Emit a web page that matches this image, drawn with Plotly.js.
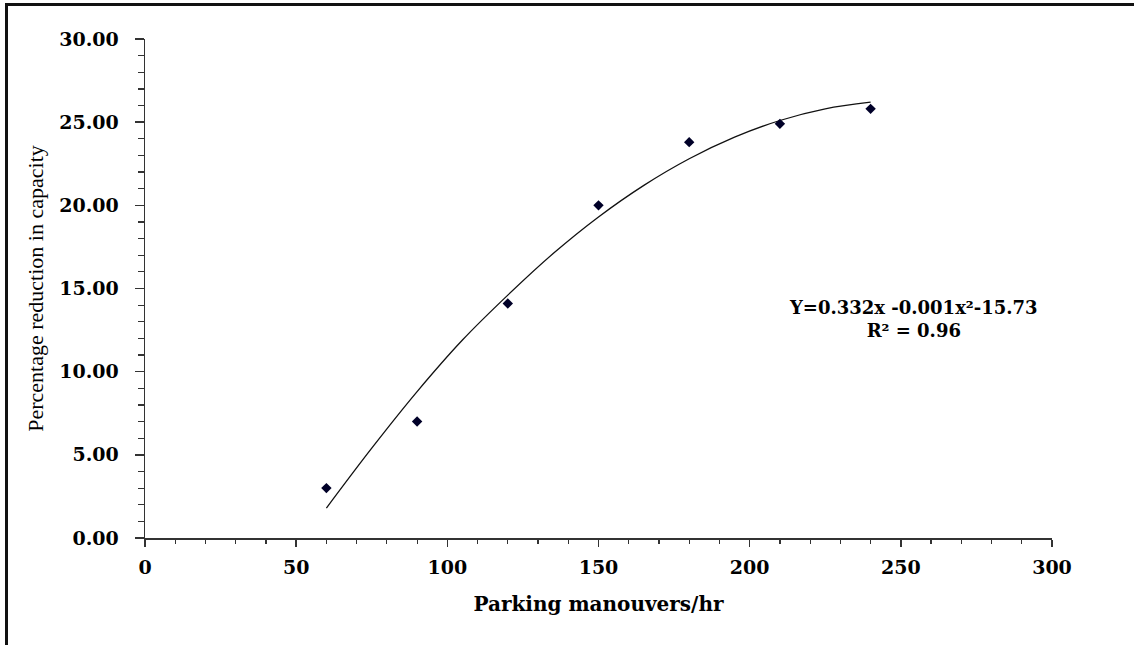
<!DOCTYPE html>
<html>
<head>
<meta charset="utf-8">
<script src="https://cdn.plot.ly/plotly-3.0.1.min.js"></script>
<style>
  html, body { margin: 0; padding: 0; background: #fff; }
  #wrap { position: relative; width: 1134px; height: 645px; overflow: hidden; }
  #chart { position: absolute; left: 0; top: 0; width: 1134px; height: 645px; }
  .frameTop { position: absolute; left: 5px; top: 3px; width: 1129px; height: 3px; background: #111; }
  .frameLeft { position: absolute; left: 5px; top: 3px; width: 3px; height: 642px; background: #111; }
</style>
</head>
<body>
<div id="wrap">
  <div id="chart"></div>
  <div class="frameTop"></div>
  <div class="frameLeft"></div>
</div>
<script>
// Observed data points
const manoeuvres = [60, 90, 120, 150, 180, 210, 240];
const reduction = [3.0, 7.0, 14.1, 20.0, 23.8, 24.9, 25.8];

// Trend curve
const trendX = [60, 75, 90, 105, 120, 135, 150, 165, 180, 195, 210, 225, 240];
const trendY = [1.8, 5.4, 8.8, 11.9, 14.6, 17.1, 19.3, 21.2, 22.8, 24.1, 25.1, 25.8, 26.2];

const xTickVals = [0, 50, 100, 150, 200, 250, 300];
const yTickVals = [0, 5, 10, 15, 20, 25, 30];

const equationText = 'Y=0.332x -0.001x²-15.73<br>R² = 0.96';
const xTitle = 'Parking manouvers/hr';
const yTitle = 'Percentage reduction in capacity';

const tickFont = { family: 'DejaVu Serif', size: 19, color: '#000', weight: 'bold' };

const traces = [
  {
    x: trendX, y: trendY, type: 'scatter', mode: 'lines',
    line: { color: '#111', width: 1.3, shape: 'spline' },
    hoverinfo: 'skip', showlegend: false
  },
  {
    x: manoeuvres, y: reduction, type: 'scatter', mode: 'markers',
    marker: { symbol: 'diamond', size: 8, color: '#000028' },
    showlegend: false
  }
];

const layout = {
  width: 1134, height: 645,
  margin: { l: 145, r: 82, t: 39, b: 107 },
  paper_bgcolor: 'rgba(0,0,0,0)', plot_bgcolor: '#fff',
  showlegend: false,
  xaxis: {
    range: [0, 300], tickvals: xTickVals, ticktext: xTickVals.map(String),
    showgrid: false, zeroline: false,
    showline: true, linecolor: '#333', linewidth: 1.5,
    ticks: 'outside', ticklen: 7, tickwidth: 1.5, tickcolor: '#333',
    minor: { dtick: 10, ticks: 'outside', ticklen: 4, tickwidth: 1.2, tickcolor: '#333', showgrid: false },
    tickfont: tickFont, ticklabelstandoff: 5,
    title: { text: xTitle, font: { family: 'DejaVu Serif', size: 20, color: '#000', weight: 'bold' }, standoff: 19 },
    automargin: false
  },
  yaxis: {
    range: [0, 30], tickvals: yTickVals, ticktext: yTickVals.map(v => v.toFixed(2)),
    showgrid: false, zeroline: false,
    showline: true, linecolor: '#333', linewidth: 1.5,
    ticks: 'outside', ticklen: 9, tickwidth: 1.5, tickcolor: '#333',
    minor: { dtick: 1, ticks: 'outside', ticklen: 6, tickwidth: 1.2, tickcolor: '#333', showgrid: false },
    tickfont: tickFont, ticklabelstandoff: 12,
    title: { text: yTitle, font: { family: 'Liberation Serif', size: 22, color: '#000' }, standoff: 9 },
    automargin: false
  },
  annotations: [
    {
      text: equationText, xref: 'paper', yref: 'paper',
      x: 0.847, y: 0.439, xanchor: 'center', yanchor: 'middle',
      showarrow: false, align: 'center',
      font: { family: 'DejaVu Serif', size: 18, color: '#000', weight: 'bold' }
    }
  ]
};

Plotly.newPlot('chart', traces, layout, { displayModeBar: false, staticPlot: true });
</script>
</body>
</html>
